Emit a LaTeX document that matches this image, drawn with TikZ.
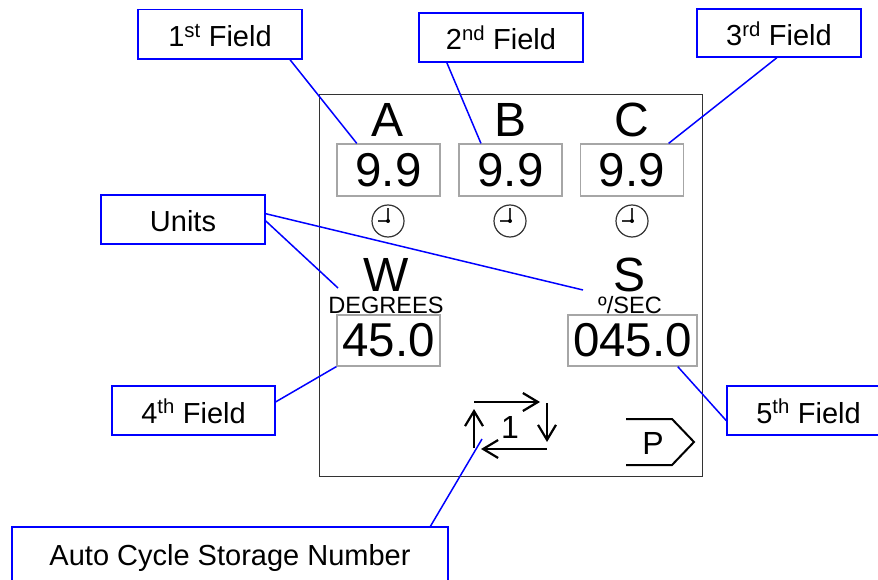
\documentclass[tikz,border=0pt]{standalone}
\usepackage{fontspec}
\setmainfont{Liberation Sans}
\usepackage{tikz}
\usetikzlibrary{arrows.meta}
\tikzset{
  callout/.style={draw=blue, line width=1.5, fill=white, inner sep=0, align=center, text height=25, text depth=0, font=\fontsize{29}{32}\selectfont},
  leader/.style={draw=blue, line width=1.5},
  readout/.style={draw=gray!70, line width=1.2, inner sep=0, font=\fontsize{47.5}{50}\selectfont},
  letter/.style={inner sep=0, font=\fontsize{48}{50}\selectfont},
  unitname/.style={inner sep=0, font=\fontsize{23.6}{26}\selectfont},
  cycle/.style={line width=2.2, -{Straight Barb[length=15pt,width=18pt,line width=2.2]}},
  dial/.style={draw=black!80, line width=1.2, circle, minimum size=32, inner sep=0},
}
\begin{document}
\begin{tikzpicture}[x=1pt, y=-1pt]
\useasboundingbox (0,0) rectangle (878,580);
% panel outline
\draw[black!80, line width=0.9] (319,94) rectangle (702,476);

% readouts
\node[letter] (letterA) at (388,119.5) {A};
\node[letter] (letterB) at (511,119.5) {B};
\node[letter] (letterC) at (632,119.5) {C};
\node[readout, minimum width=103, minimum height=52] (valA) at (388.5,170) {9.9};
\node[readout, minimum width=103, minimum height=52] (valB) at (510.5,170) {9.9};
\node[readout, minimum width=103, minimum height=52] (valC) at (632,170) {9.9};

% timers
\foreach \dx/\dn in {388/A,510/B,632/C} {
  \node[dial] (dial\dn) at (\dx,221) {};
  \draw[black!80, line width=1.4] (dial\dn.center) -- ++(0,-13);
  \draw[black!80, line width=1.4] (dial\dn.center) -- ++(-10,0);
  \fill[black] (dial\dn.center) circle (2);
}

\node[letter] (letterW) at (386,275) {W};
\node[letter] (letterS) at (629,275) {S};
\node[unitname] (unitW) at (386,305) {DEGREES};
\node[unitname] (unitS) at (630,305) {º/SEC};
\node[readout, minimum width=103, minimum height=51] (valW) at (388.5,340.5) {45.0};
\node[readout, minimum width=129, minimum height=51] (valS) at (632.5,340.5) {045.0};

% cycle symbol
\coordinate (topL) at (474,402);
\coordinate (topR) at (540,402);
\coordinate (sideR) at (547,403);
\coordinate (lowR) at (547,449);
\coordinate (lowL) at (481,449);
\coordinate (sideL) at (474,448);
\coordinate (upL) at (474,409);
\draw[cycle] (topL) -- (topR);
\draw[cycle] (sideR) -- (547,442);
\draw[cycle] (lowR) -- (lowL);
\draw[cycle] (sideL) -- (upL);
\node[inner sep=0, font=\fontsize{32}{34}\selectfont] (cyclenum) at (510,427) {1};

% page symbol
\draw[black, line width=2.0] (626,419) -- (672,419) -- (694,442) -- (672,465) -- (626,465);
\node[inner sep=0, font=\fontsize{32}{34}\selectfont] (pagenum) at (653,443) {P};

% callouts
\node[callout, minimum width=164, minimum height=49.5] (fieldA) at (220,34.3) {1\textsuperscript{st} Field};
\node[callout, minimum width=164, minimum height=49] (fieldB) at (501,37.5) {2\textsuperscript{nd} Field};
\node[callout, minimum width=164, minimum height=48] (fieldC) at (779,33) {3\textsuperscript{rd} Field};
\node[callout, minimum width=164, minimum height=49] (units) at (183,219.5) {Units};
\node[callout, minimum width=163, minimum height=49] (fieldW) at (193.5,410.5) {4\textsuperscript{th} Field};
\node[callout, minimum width=163, minimum height=49] (fieldS) at (808.5,410.5) {5\textsuperscript{th} Field};
\node[callout, text depth=7, minimum width=436, minimum height=58] (storage) at (230,556) {Auto Cycle Storage Number};

\coordinate (endW) at (338,288);
\coordinate (endS) at (583,290);
\coordinate (endNum) at (482,439);
\coordinate (footNum) at (430,527);

\draw[leader] (fieldA.-20.5) -- (valA.140.5);
\draw[leader] (fieldB.205.7) -- (valB.138.6);
\draw[leader] (fieldC.265) -- (valC.36.6);
\draw[leader] (units.4.5) -- (endS);
\draw[leader] (units.-1.7) -- (endW);
\draw[leader] (fieldW.6) -- (valW.south west);
\draw[leader] (fieldS.187.3) -- (valS.-30.4);
\draw[leader] (footNum) -- (endNum);
\end{tikzpicture}
\end{document}
